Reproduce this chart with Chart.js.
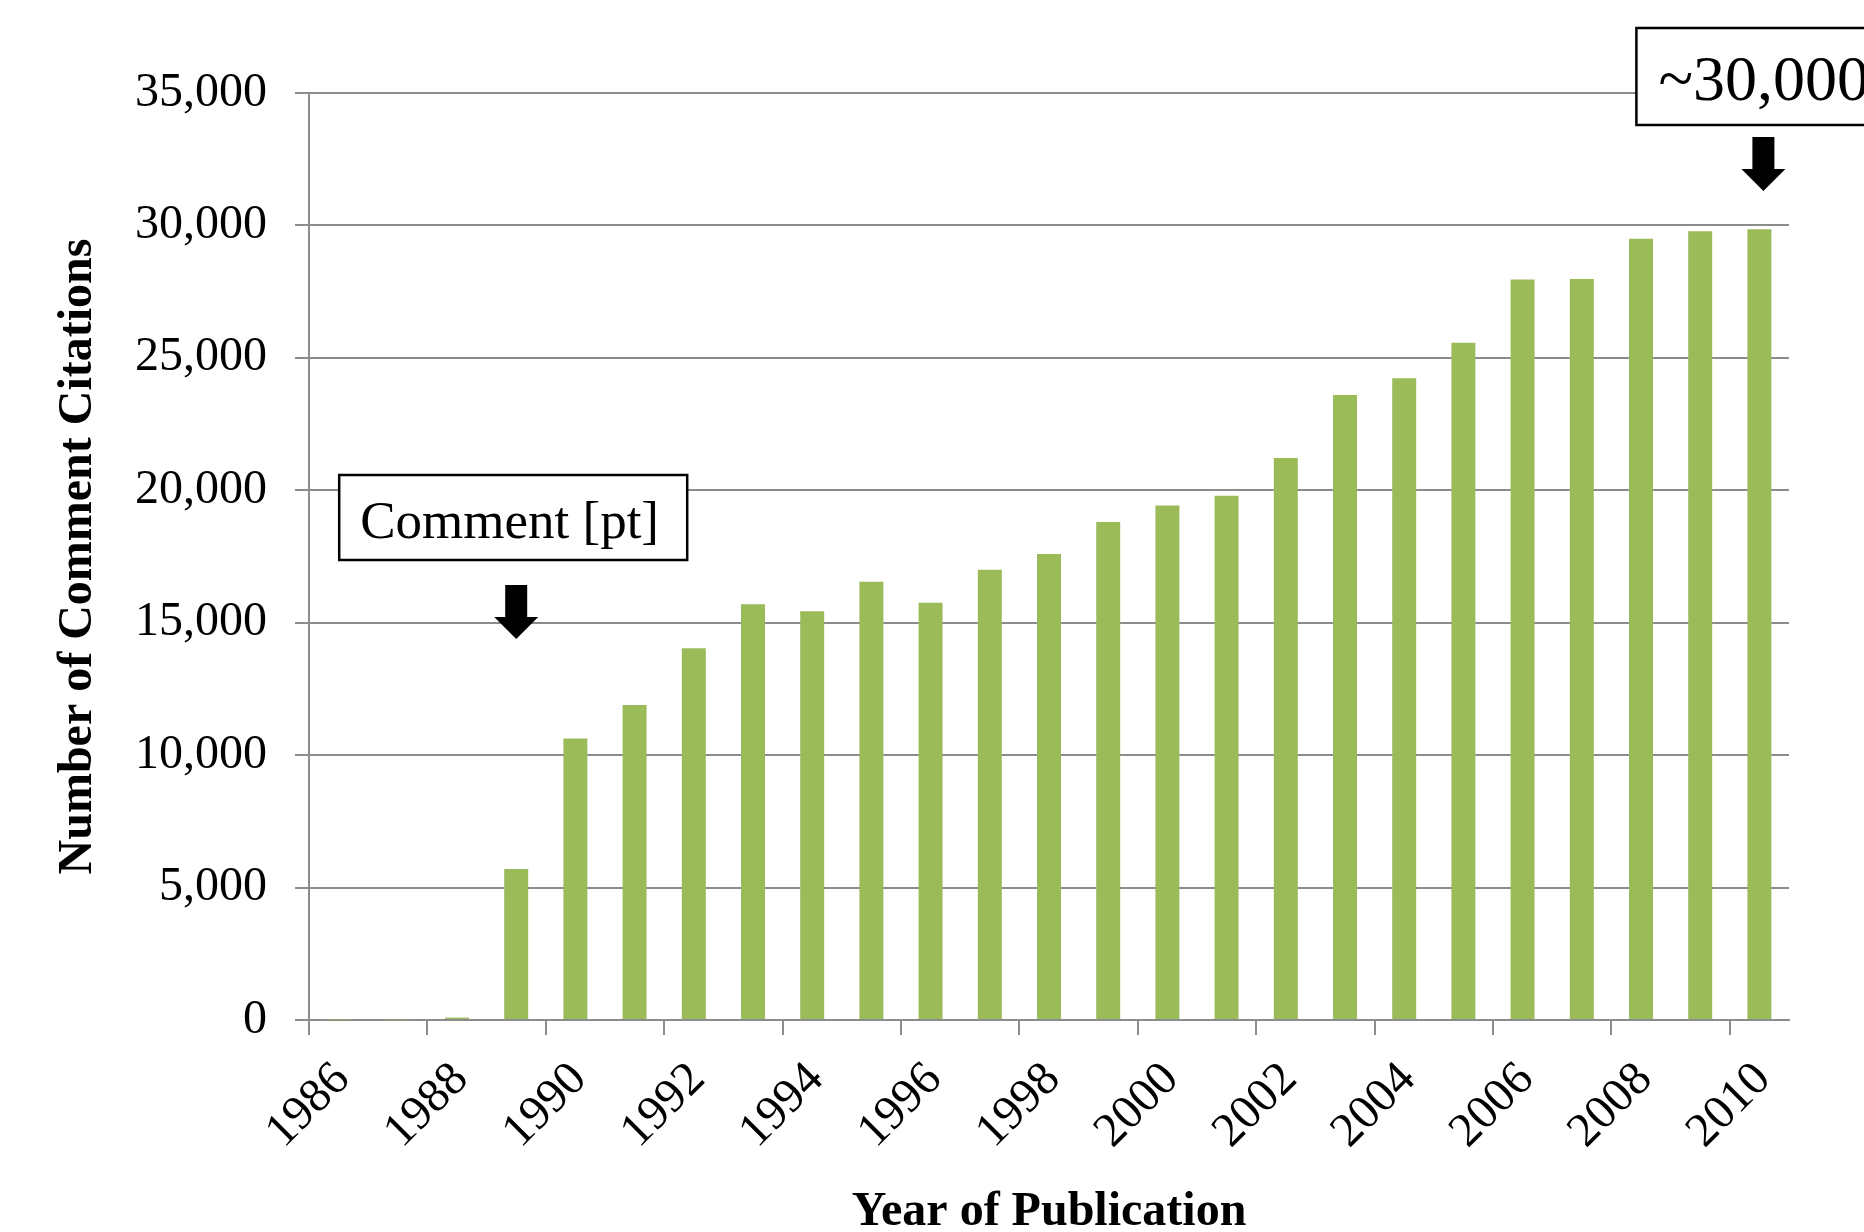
<!DOCTYPE html>
<html>
<head>
<meta charset="utf-8">
<title>Comment Citations</title>
<script src="https://cdn.jsdelivr.net/npm/chart.js@4.4.0/dist/chart.umd.min.js"></script>
<style>
    html, body { margin: 0; padding: 0; background: #fff; }
    #chartBox { width: 1864px; height: 1232px; }
</style>
</head>
<body>
<div id="chartBox"><canvas id="citationsChart" width="1864" height="1232"></canvas></div>
<script>
// yıllar ve yorum atıf sayıları
const years = ['1986','1987','1988','1989','1990','1991','1992','1993','1994','1995','1996','1997','1998',
    '1999','2000','2001','2002','2003','2004','2005','2006','2007','2008','2009','2010'];
const citations = [15, 25, 90, 5700, 10630, 11890, 14040, 15700, 15430, 16550, 15750, 17000, 17590,
    18800, 19430, 19790, 21220, 23600, 24230, 25570, 27960, 27980, 29500, 29780, 29860];
const yTicks = [0, 5000, 10000, 15000, 20000, 25000, 30000, 35000];

const barColor = '#9BBB59';
const axisGray = '#8c8c8c';
const serif = '"Liberation Serif", "Times New Roman", serif';

Chart.defaults.font.family = serif;
Chart.defaults.color = '#000';

// kutulu not + aşağı ok
const notes = [
    { text: 'Comment [pt]', year: '1989', size: 53, boxLeft: -177, boxRight: 171, boxTop: 475, boxBottom: 560,
      textLeft: -156, baseline: 538, arrowTop: 585, headTop: 617, tip: 639, dx: 0 },
    { text: '~30,000', year: '2010', size: 64, boxLeft: -127, boxRight: 135, boxTop: 28, boxBottom: 125,
      textLeft: -105, baseline: 100, arrowTop: 137, headTop: 169, tip: 191, dx: 4 }
];

const notesPlugin = {
    id: 'notes',
    afterDraw(chart) {
        const ctx = chart.ctx;
        const xs = chart.scales.x;
        ctx.save();
        notes.forEach(n => {
            const cx = xs.getPixelForValue(years.indexOf(n.year)) + n.dx;
            // kutu
            ctx.fillStyle = '#fff';
            ctx.fillRect(cx + n.boxLeft, n.boxTop, n.boxRight - n.boxLeft, n.boxBottom - n.boxTop);
            ctx.strokeStyle = '#000';
            ctx.lineWidth = 2.5;
            ctx.strokeRect(cx + n.boxLeft, n.boxTop, n.boxRight - n.boxLeft, n.boxBottom - n.boxTop);
            ctx.fillStyle = '#000';
            ctx.font = n.size + 'px ' + serif;
            ctx.textAlign = 'left';
            ctx.textBaseline = 'alphabetic';
            ctx.fillText(n.text, cx + n.textLeft, n.baseline);
            // ok
            ctx.beginPath();
            ctx.moveTo(cx - 11, n.arrowTop);
            ctx.lineTo(cx + 11, n.arrowTop);
            ctx.lineTo(cx + 11, n.headTop);
            ctx.lineTo(cx + 22, n.headTop);
            ctx.lineTo(cx, n.tip);
            ctx.lineTo(cx - 22, n.headTop);
            ctx.lineTo(cx - 11, n.headTop);
            ctx.closePath();
            ctx.fill();
        });
        ctx.restore();
    }
};

const ctx = document.getElementById('citationsChart').getContext('2d');
const citationsChart = new Chart(ctx, {
    type: 'bar',
    data: {
        labels: years,
        datasets: [{
            label: 'Number of Comment Citations',
            data: citations,
            backgroundColor: barColor,
            borderWidth: 0,
            barPercentage: 0.405,
            categoryPercentage: 1
        }]
    },
    options: {
        responsive: false,
        animation: false,
        devicePixelRatio: 1,
        layout: { padding: { top: 93, right: 75, left: 0, bottom: 0 } },
        plugins: {
            legend: { display: false },
            tooltip: { enabled: false }
        },
        scales: {
            x: {
                offset: true,
                grid: {
                    offset: true,
                    drawOnChartArea: false,
                    drawTicks: true,
                    tickLength: 15,
                    lineWidth: 2,
                    // sadece iki yılda bir çentik
                    color: c => (c.index % 2 === 0 ? axisGray : 'rgba(0,0,0,0)')
                },
                border: { color: axisGray, width: 2 },
                ticks: {
                    autoSkip: false,
                    minRotation: 45,
                    maxRotation: 45,
                    padding: 20,
                    labelOffset: 4,
                    font: { size: 48, lineHeight: 1 },
                    callback: function (value, index) {
                        return index % 2 === 0 ? this.getLabelForValue(value) : '';
                    }
                },
                title: {
                    display: true,
                    text: 'Year of Publication',
                    font: { size: 48, weight: 'bold', lineHeight: 0.82 },
                    padding: 0
                },
                afterFit: scale => { scale.height = 212; }
            },
            y: {
                min: 0,
                max: 35000,
                afterBuildTicks: scale => { scale.ticks = yTicks.map(v => ({ value: v })); },
                grid: {
                    color: axisGray,
                    lineWidth: 2,
                    drawTicks: true,
                    tickLength: 14
                },
                border: { color: axisGray, width: 2 },
                ticks: {
                    padding: 28,
                    font: { size: 48 },
                    callback: v => v.toLocaleString('en-US')
                },
                title: {
                    display: true,
                    text: 'Number of Comment Citations',
                    font: { size: 48, weight: 'bold' },
                    padding: { top: 50, bottom: 0 }
                },
                afterFit: scale => { scale.width = 309; }
            }
        }
    },
    plugins: [notesPlugin]
});
</script>
</body>
</html>
